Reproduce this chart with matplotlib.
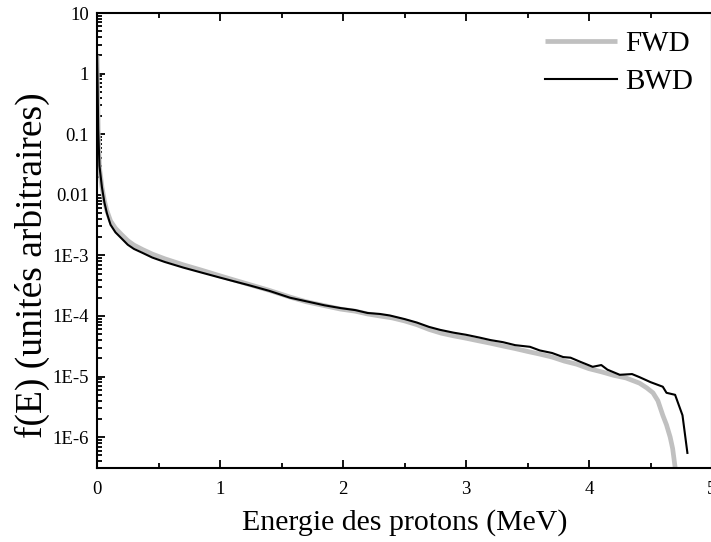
import matplotlib
matplotlib.use("Agg")
import matplotlib.pyplot as plt
from matplotlib.ticker import FixedLocator, FixedFormatter, LogLocator, MultipleLocator, NullFormatter

plt.rcParams['font.family'] = ['Liberation Serif', 'DejaVu Serif']

# Spectres en energie des protons (MeV) - avant et arriere
e_fwd = [0.0, 0.005, 0.01, 0.02, 0.04, 0.06, 0.08, 0.11, 0.15, 0.2, 0.25, 0.3, 0.37,
         0.45, 0.55, 0.7, 0.85, 1.0, 1.1, 1.24, 1.4, 1.57, 1.7, 1.85, 1.98, 2.1, 2.2,
         2.3, 2.4, 2.5, 2.6, 2.7, 2.8, 2.9, 3.0, 3.1, 3.2, 3.3, 3.4, 3.5, 3.6, 3.7,
         3.8, 3.9, 4.0, 4.1, 4.2, 4.3, 4.41, 4.47, 4.52, 4.56, 4.60, 4.63, 4.66,
         4.68, 4.70, 4.71]
f_fwd = [2.0, 0.5, 0.1, 0.028, 0.0135, 0.008, 0.0055, 0.0037, 0.0028, 0.0022, 0.00175,
         0.00148, 0.00125, 1.05e-3, 8.8e-4, 7.0e-4, 5.7e-4, 4.6e-4, 4.0e-4, 3.3e-4,
         2.65e-4, 2.05e-4, 1.72e-4, 1.48e-4, 1.3e-4, 1.2e-4, 1.08e-4, 1.0e-4, 9.3e-5,
         8.3e-5, 7.2e-5, 6.0e-5, 5.2e-5, 4.7e-5, 4.3e-5, 3.9e-5, 3.55e-5, 3.2e-5,
         2.9e-5, 2.6e-5, 2.35e-5, 2.1e-5, 1.8e-5, 1.6e-5, 1.35e-5, 1.2e-5, 1.05e-5,
         9.5e-6, 7.8e-6, 6.5e-6, 5.4e-6, 4.0e-6, 2.3e-6, 1.6e-6, 1.0e-6, 6.5e-7,
         3.2e-7, 2.0e-7]

e_bwd = [0.0, 0.005, 0.01, 0.02, 0.04, 0.06, 0.08, 0.11, 0.15, 0.2, 0.25, 0.3, 0.37,
         0.45, 0.55, 0.7, 0.85, 1.0, 1.1, 1.24, 1.4, 1.57, 1.7, 1.85, 1.98, 2.1, 2.2,
         2.3, 2.38, 2.5, 2.6, 2.7, 2.79, 2.9, 3.0, 3.11, 3.2, 3.3, 3.4, 3.52, 3.6,
         3.7, 3.79, 3.85, 3.93, 4.03, 4.1, 4.15, 4.25, 4.35, 4.41, 4.50, 4.60, 4.63,
         4.70, 4.76, 4.80]
f_bwd = [2.2, 0.6, 0.12, 0.03, 0.0134, 0.0075, 0.0050, 0.0032, 0.0024, 0.0019, 0.0015,
         0.00128, 0.0011, 9.2e-4, 7.8e-4, 6.3e-4, 5.2e-4, 4.3e-4, 3.8e-4, 3.2e-4,
         2.6e-4, 2.0e-4, 1.75e-4, 1.5e-4, 1.35e-4, 1.25e-4, 1.12e-4, 1.08e-4, 1.02e-4,
         8.9e-5, 7.8e-5, 6.6e-5, 5.9e-5, 5.3e-5, 4.9e-5, 4.4e-5, 4.0e-5, 3.7e-5,
         3.3e-5, 3.1e-5, 2.7e-5, 2.45e-5, 2.1e-5, 2.05e-5, 1.75e-5, 1.45e-5, 1.55e-5,
         1.3e-5, 1.07e-5, 1.1e-5, 9.8e-6, 8.1e-6, 6.8e-6, 5.4e-6, 5.0e-6, 2.3e-6,
         5.5e-7]

y_ticks = [10, 1, 0.1, 0.01, 1e-3, 1e-4, 1e-5, 1e-6]
y_labels = ['10', '1', '0.1', '0.01', '1E-3', '1E-4', '1E-5', '1E-6']

fig = plt.figure(figsize=(7.11, 5.42), dpi=100)
ax = fig.add_axes([97 / 711, 74 / 542, 615 / 711, 455 / 542])

ax.plot(e_fwd, f_fwd, color='#c0c0c0', lw=3.4, label='FWD', solid_capstyle='butt')
ax.plot(e_bwd, f_bwd, color='black', lw=1.5, label='BWD')

ax.set_yscale('log')
ax.set_xlim(0, 5)
ax.set_ylim(3.1e-7, 10)

ax.yaxis.set_major_locator(FixedLocator(y_ticks))
ax.yaxis.set_major_formatter(FixedFormatter(y_labels))
ax.yaxis.set_minor_locator(LogLocator(base=10, subs=range(2, 10), numticks=20))
ax.yaxis.set_minor_formatter(NullFormatter())
ax.xaxis.set_major_locator(MultipleLocator(1))
ax.xaxis.set_minor_locator(MultipleLocator(0.5))

ax.tick_params(which='both', direction='in', top=True, right=False, width=1.3,
               labelsize=13.5)
ax.tick_params(which='major', length=6)
ax.tick_params(which='minor', length=3.5)
ax.tick_params(axis='x', pad=9)
ax.tick_params(axis='y', pad=6)

for s in ax.spines.values():
    s.set_linewidth(1.5)

ax.set_xlabel('Energie des protons (MeV)', fontsize=21.5, labelpad=8)
ax.set_ylabel('f(E) (unités arbitraires)', fontsize=27)
ax.yaxis.set_label_coords(-0.077, 0.445)

ax.legend(loc='upper right', frameon=False, fontsize=21, handlelength=2.5,
          handletextpad=0.25, labelspacing=0.4, borderaxespad=0.2,
          bbox_to_anchor=(0.997, 1.0))

fig.savefig('out.png', dpi=100)
